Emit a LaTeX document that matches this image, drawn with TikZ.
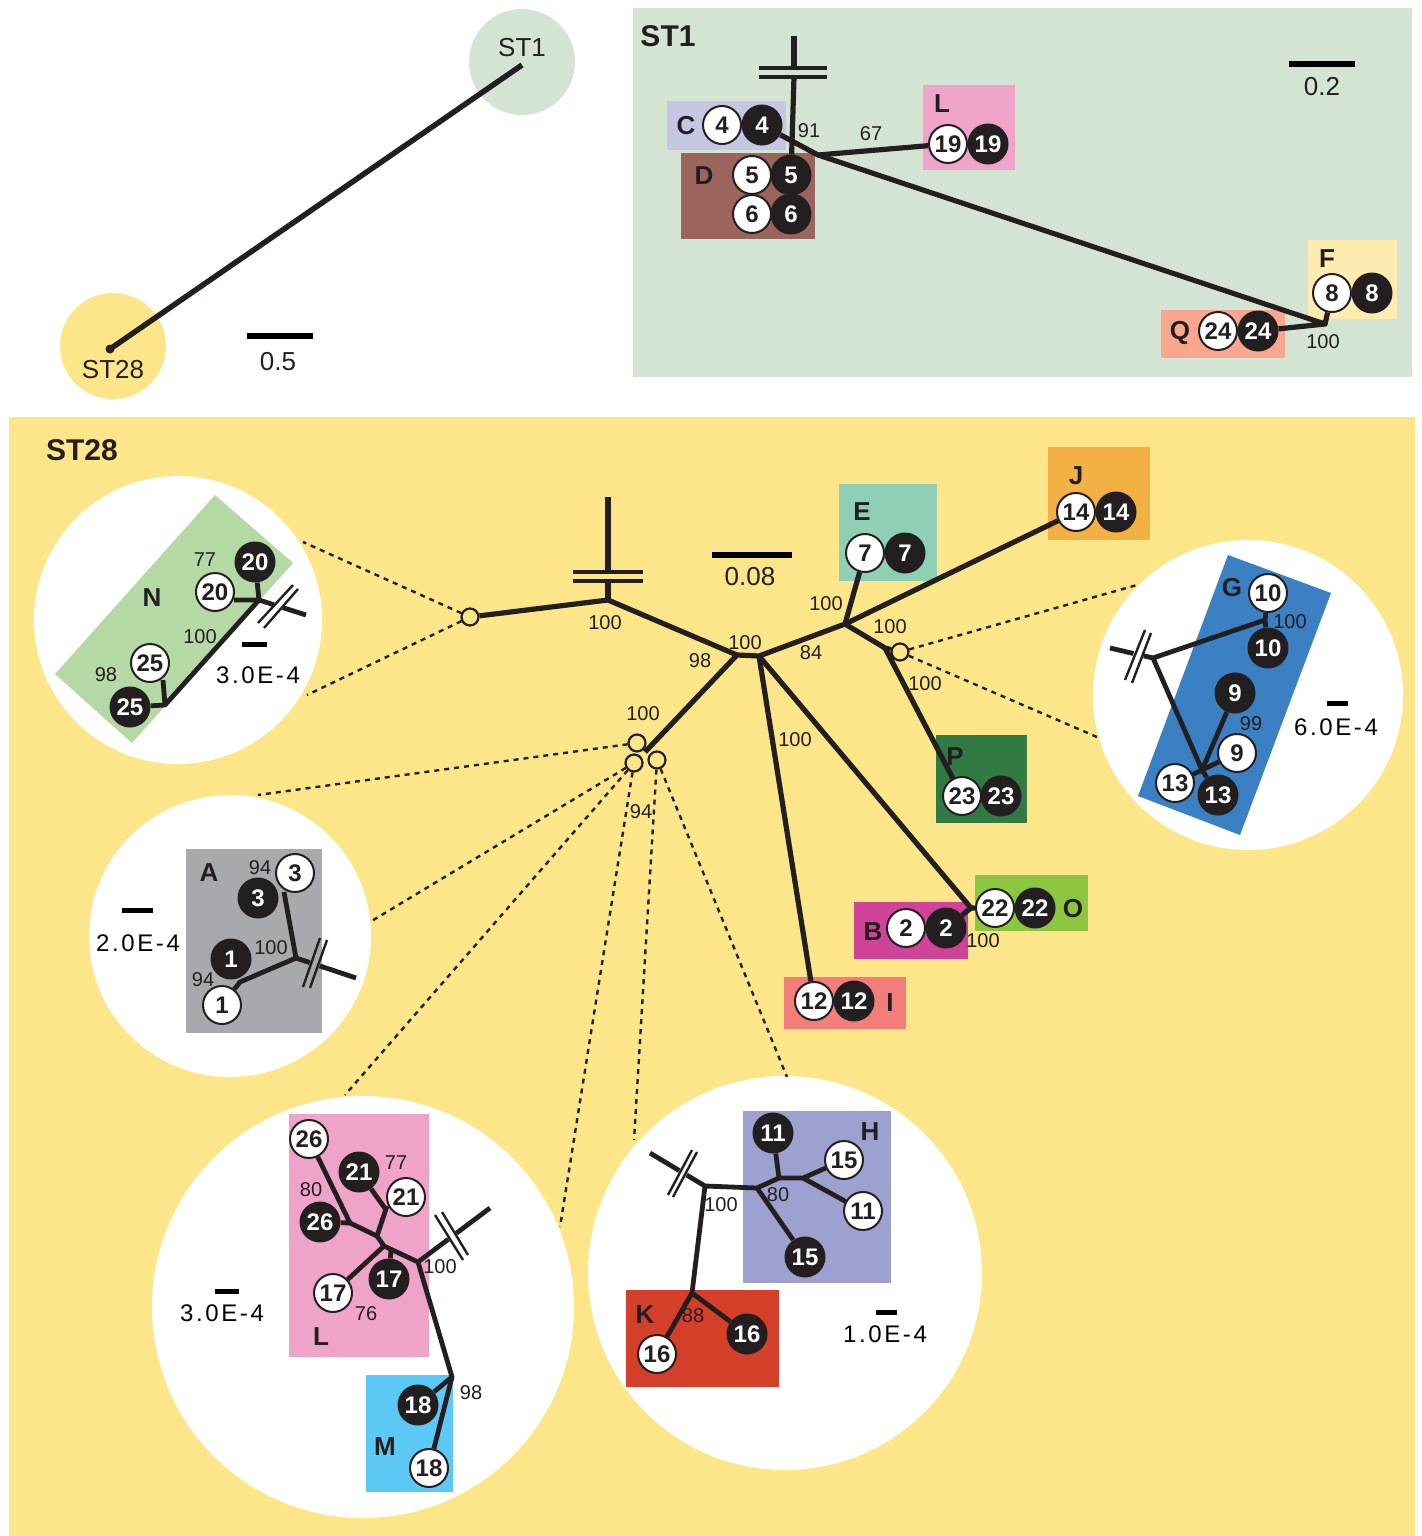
\documentclass[tikz,border=0pt]{standalone}
\usepackage{fontspec}
\setmainfont{Liberation Sans}
\newfontfamily\spacedfont[LetterSpace=11]{Liberation Sans}
\usetikzlibrary{calc}
\definecolor{ink}{HTML}{231F20}
\definecolor{stgreen}{HTML}{D4E4D2}
\definecolor{styellow}{HTML}{FDE68A}
\definecolor{cC}{HTML}{C5C6E4}
\definecolor{cD}{HTML}{9B655E}
\definecolor{cLpink}{HTML}{F0A3C8}
\definecolor{cF}{HTML}{FEEBAF}
\definecolor{cQ}{HTML}{F8A68E}
\definecolor{cE}{HTML}{8ECFB5}
\definecolor{cJ}{HTML}{F2B045}
\definecolor{cP}{HTML}{327A44}
\definecolor{cO}{HTML}{8CC640}
\definecolor{cB}{HTML}{CF4399}
\definecolor{cI}{HTML}{F27E7B}
\definecolor{cN}{HTML}{B5D9A5}
\definecolor{cG}{HTML}{3A80C2}
\definecolor{cA}{HTML}{A7A9AC}
\definecolor{cM}{HTML}{5CC8F5}
\definecolor{cH}{HTML}{9DA1D0}
\definecolor{cK}{HTML}{D43F2A}
\tikzset{
  br/.style={line width=5.2pt, draw=ink, line join=round},
  ibr/.style={line width=4.8pt, draw=ink, line join=round},
  bar/.style={line width=3.4pt, draw=ink},
  tbar/.style={line width=2.4pt, draw=ink},
  wn/.style={circle, draw=ink, line width=2pt, fill=white, minimum size=38pt, inner sep=0pt, font=\bfseries\fontsize{24}{24}\selectfont, text=ink},
  bn/.style={circle, fill=ink, minimum size=41pt, inner sep=0pt, font=\bfseries\fontsize{24}{24}\selectfont, text=white},
  grp/.style={font=\bfseries\fontsize{26}{26}\selectfont, text=ink, inner sep=0pt},
  ttl/.style={font=\bfseries\fontsize{30}{30}\selectfont, text=ink, inner sep=0pt},
  bs/.style={font=\fontsize{20}{20}\selectfont, text=ink, inner sep=0pt},
  scl/.style={font=\fontsize{26}{26}\selectfont, text=ink, inner sep=0pt},
  scs/.style={font=\spacedfont\fontsize{24}{24}\selectfont, text=black, inner sep=0pt},
  sbar/.style={line width=5.5pt, draw=black},
  ssbar/.style={line width=5pt, draw=black},
  dsh/.style={line width=2.4pt, dash pattern=on 5pt off 5pt, draw=ink},
  hub/.style={circle, draw=ink, line width=2.2pt, minimum size=17pt, inner sep=0pt},
}
\begin{document}
\begin{tikzpicture}[x=1pt,y=-1pt]
\useasboundingbox (0,0) rectangle (1421,1536);
\fill[white] (0,0) rectangle (1421,1536);

% ================= overview =================
\fill[stgreen] (522,62) circle (53pt);
\fill[styellow] (113,346) circle (53pt);
\coordinate (ovA) at (522,65);
\coordinate (ovB) at (110,349);
\draw[br, line width=5.5pt] (ovA) -- (ovB);
\fill[ink] (ovB) circle (4.5pt);
\node[scl] (ovst1) at (522,48) {ST1};
\node[scl] (ovst28) at (113,370) {ST28};
\coordinate (sb05a) at (247,336); \coordinate (sb05b) at (313,336);
\draw[sbar] (sb05a) -- (sb05b);
\node[scl] (sb05) at (278,362) {0.5};

% ================= ST1 panel =================
\fill[stgreen] (633,8) rectangle (1412,377);
\node[ttl] (st1title) at (668,36) {ST1};
\fill[cC] (667,101) rectangle (786,150);
\fill[cD] (681,153) rectangle (815,239);
\fill[cLpink] (923,85) rectangle (1015,170);
\fill[cF] (1308,240) rectangle (1397,319);
\fill[cQ] (1161,310) rectangle (1285,358);
\node[grp] (st1C) at (686,126) {C};
\node[grp] (st1D) at (704,176) {D};
\node[grp] (st1L) at (942,104) {L};
\node[grp] (st1F) at (1327,259) {F};
\node[grp] (st1Q) at (1180,333) {Q};
\node[wn] (st1w4) at (722,125) {4};
\node[bn] (st1b4) at (762,125) {4};
\node[wn] (st1w5) at (752,175) {5};
\node[bn] (st1b5) at (791,175) {5};
\node[wn] (st1w6) at (752,214) {6};
\node[bn] (st1b6) at (791,214) {6};
\node[wn] (st1w19) at (948,144) {19};
\node[bn] (st1b19) at (988,144) {19};
\node[wn] (st1w8) at (1332,293) {8};
\node[bn] (st1b8) at (1372,293) {8};
\node[wn] (st1w24) at (1218,331) {24};
\node[bn] (st1b24) at (1258,331) {24};
\coordinate (st1top) at (794,36);
\coordinate (st1c1) at (794,68);
\coordinate (st1c2) at (794,77);
\coordinate (st1j) at (818,155);
\coordinate (st1f) at (1325,324);
\draw[br] (st1top) -- (st1c1);
\draw[br] (st1c2) -- (st1b5);
\coordinate (st1bar1a) at (759,68); \coordinate (st1bar1b) at (827,68);
\coordinate (st1bar2a) at (759,77); \coordinate (st1bar2b) at (827,77);
\draw[bar] (st1bar1a) -- (st1bar1b);
\draw[bar] (st1bar2a) -- (st1bar2b);
\draw[br] (st1b4) -- (st1j) -- (st1w19);
\draw[br] (st1j) -- (st1f) -- (st1b24);
\draw[br] (st1f) -- (st1w8);
\node[bs] (st1l91) at (809,131) {91};
\node[bs] (st1l67) at (871,134) {67};
\node[bs] (st1l100) at (1323,342) {100};
\coordinate (sb02a) at (1289,64); \coordinate (sb02b) at (1355,64);
\draw[sbar] (sb02a) -- (sb02b);
\node[scl] (sb02) at (1322,87) {0.2};

% ================= ST28 panel =================
\fill[styellow] (9,417) rectangle (1415,1536);
\node[ttl] (st28title) at (82,450) {ST28};
% inset discs
\fill[white] (178,620) circle (144pt);
\fill[white] (1248,695) circle (155pt);
\fill[white] (230,936) circle (141pt);
\fill[white] (363,1307) circle (211pt);
\fill[white] (785,1273) circle (197pt);
% main boxes
\fill[cE] (839,484) rectangle (937,581);
\fill[cJ] (1048,447) rectangle (1150,540);
\fill[cP] (936,735) rectangle (1027,823);
\fill[cO] (975,875) rectangle (1088,931);
\fill[cB] (854,902) rectangle (968,959);
\fill[cI] (784,977) rectangle (906,1029);

% hubs and dashed links
\node[hub] (hubN) at (470,617) {};
\node[hub] (hubG) at (900,652) {};
\node[hub] (hubA) at (637,743) {};
\node[hub] (hubB) at (634,763) {};
\node[hub] (hubC) at (657,760) {};
\coordinate (dN1) at (303,542); \coordinate (dN2) at (307,695);
\coordinate (dG1) at (1137,585); \coordinate (dG2) at (1097,737);
\coordinate (dA1) at (258,795); \coordinate (dA2) at (370,922);
\coordinate (dL1) at (345,1095); \coordinate (dL2) at (560,1227);
\coordinate (dH1) at (634,1140); \coordinate (dH2) at (787,1077);
\draw[dsh] (hubN) -- (dN1);
\draw[dsh] (hubN) -- (dN2);
\draw[dsh] (hubG) -- (dG1);
\draw[dsh] (hubG) -- (dG2);
\draw[dsh] (hubA) -- (dA1);
\draw[dsh] (hubB) -- (dA2);
\draw[dsh] (hubB) -- (dL1);
\draw[dsh] (hubB) -- (dL2);
\draw[dsh] (hubC) -- (dH1);
\draw[dsh] (hubC) -- (dH2);

% main nodes
\node[grp] (mE) at (862,512) {E};
\node[wn] (mw7) at (865,553) {7};
\node[bn] (mb7) at (905,553) {7};
\node[grp] (mJ) at (1076,476) {J};
\node[wn] (mw14) at (1076,512) {14};
\node[bn] (mb14) at (1116,512) {14};
\node[grp, text=ink] (mPl) at (955,757) {P};
\node[wn] (mw23) at (962,796) {23};
\node[bn] (mb23) at (1001,796) {23};
\node[wn] (mw22) at (995,908) {22};
\node[bn] (mb22) at (1035,908) {22};
\node[grp] (mO) at (1073,909) {O};
\node[grp] (mB) at (873,932) {B};
\node[wn] (mw2) at (906,928) {2};
\node[bn] (mb2) at (946,928) {2};
\node[wn] (mw12) at (814,1001) {12};
\node[bn] (mb12) at (854,1001) {12};
\node[grp] (mI) at (890,1003) {I};

% main tree
\coordinate (mtop) at (608,497);
\coordinate (mc1) at (608,572);
\coordinate (mc2) at (608,581);
\coordinate (m0) at (608,600);
\coordinate (m98) at (737,655);
\coordinate (m100) at (759,656);
\coordinate (mcl) at (645,752);
\coordinate (m84) at (845,624);
\coordinate (mP) at (885,648);
\coordinate (mBO) at (971,908);
\coordinate (mbar1a) at (573,572); \coordinate (mbar1b) at (643,572);
\coordinate (mbar2a) at (573,581); \coordinate (mbar2b) at (643,581);
\draw[br] (mtop) -- (mc1);
\draw[br] (mc2) -- (m0);
\draw[bar] (mbar1a) -- (mbar1b);
\draw[bar] (mbar2a) -- (mbar2b);
\draw[br] (hubN) -- (m0) -- (m98) -- (m100) -- (m84) -- (mw14);
\draw[br] (m98) -- (mcl);
\draw[br] (m84) -- (mw7);
\draw[br] (m84) -- (mP) -- (hubG);
\draw[br] (mP) -- (mw23);
\draw[br] (m100) -- (mw12);
\draw[br] (m100) -- (mBO) -- (mw22);
\draw[br] (mBO) -- (mb2);
\node[bs] (ml1) at (605,623) {100};
\node[bs] (ml2) at (700,661) {98};
\node[bs] (ml3) at (745,643) {100};
\node[bs] (ml4) at (811,653) {84};
\node[bs] (ml5) at (826,604) {100};
\node[bs] (ml6) at (890,627) {100};
\node[bs] (ml7) at (925,684) {100};
\node[bs] (ml8) at (795,740) {100};
\node[bs] (ml9) at (643,714) {100};
\node[bs] (ml10) at (641,812) {94};
\node[bs] (ml11) at (983,941) {100};
\coordinate (sb08a) at (712,555); \coordinate (sb08b) at (792,555);
\draw[sbar] (sb08a) -- (sb08b);
\node[scl] (sb08) at (750,577) {0.08};

% ================= inset N =================
\fill[cN] (215,495) -- (293,563) -- (132,743) -- (55,674) -- cycle;
\node[grp] (nN) at (152,598) {N};
\node[bn] (nb20) at (255,562) {20};
\node[wn] (nw20) at (215,592) {20};
\node[wn] (nw25) at (150,663) {25};
\node[bn] (nb25) at (130,707) {25};
\coordinate (nJ) at (259,600);
\coordinate (nw20e) at (234,600);
\coordinate (nK) at (165,705);
\coordinate (nw25e) at (163,680);
\coordinate (ns1) at (273.8,604.7);
\coordinate (ns2) at (282.8,607.6);
\coordinate (ncut) at (306,615);
\draw[ibr] (nb20) -- (nJ) -- (nw20e);
\draw[ibr] (nJ) -- (nK) -- (nb25);
\draw[ibr] (nK) -- (nw25e);
\draw[ibr] (nJ) -- (ns1);
\draw[ibr] (ns2) -- (ncut);
\coordinate (nbar1a) at (258,623); \coordinate (nbar1b) at (293,585);
\coordinate (nbar2a) at (264,628); \coordinate (nbar2b) at (298,589);
\draw[tbar] (nbar1a) -- (nbar1b);
\draw[tbar] (nbar2a) -- (nbar2b);
\node[bs] (nl77) at (205,560) {77};
\node[bs] (nl100) at (200,637) {100};
\node[bs] (nl98) at (106,675) {98};
\coordinate (nsba) at (242,644); \coordinate (nsbb) at (267,644);
\draw[ssbar] (nsba) -- (nsbb);
\node[scs] (nsb) at (258,675) {3.0E-4};

% ================= inset G =================
\fill[cG] (1228,555) -- (1331,593) -- (1240,835) -- (1138,796) -- cycle;
\node[grp] (gG) at (1232,588) {G};
\node[wn] (gw10) at (1268,593) {10};
\node[bn] (gb10) at (1268,648) {10};
\node[bn] (gb9) at (1235,693) {9};
\node[wn] (gw9) at (1237,753) {9};
\node[wn] (gw13) at (1175,783) {13};
\node[bn] (gb13) at (1218,795) {13};
\coordinate (gJ) at (1153,658);
\coordinate (gs1) at (1143.7,655.8);
\coordinate (gs2) at (1133.5,653.5);
\coordinate (gcut) at (1110,648);
\coordinate (g10) at (1265,620);
\coordinate (g13) at (1202,770);
\draw[ibr] (gJ) -- (gs1);
\draw[ibr] (gs2) -- (gcut);
\draw[ibr] (g10) -- (gJ) -- (g13);
\draw[ibr] (g10) -- (gw10);
\draw[ibr] (g10) -- (gb10);
\draw[ibr] (g13) -- (gb9);
\draw[ibr] (g13) -- (gw9);
\draw[ibr] (g13) -- (gw13);
\draw[ibr] (g13) -- (gb13);
\coordinate (gbar1a) at (1125,680); \coordinate (gbar1b) at (1145,630);
\coordinate (gbar2a) at (1132,683); \coordinate (gbar2b) at (1151,633);
\draw[tbar] (gbar1a) -- (gbar1b);
\draw[tbar] (gbar2a) -- (gbar2b);
\node[bs] (gl100) at (1290,622) {100};
\node[bs] (gl99) at (1251,724) {99};
\coordinate (gsba) at (1327,703); \coordinate (gsbb) at (1348,703);
\draw[ssbar] (gsba) -- (gsbb);
\node[scs] (gsb) at (1336,727) {6.0E-4};

% ================= inset A =================
\fill[cA] (186,849) rectangle (322,1033);
\node[grp] (aA) at (209,873) {A};
\node[wn] (aw3) at (295,873) {3};
\node[bn] (ab3) at (258,898) {3};
\node[bn] (ab1) at (231,959) {1};
\node[wn] (aw1) at (222,1005) {1};
\coordinate (aJ) at (296,958);
\coordinate (aw3e) at (284,892);
\coordinate (a1) at (240,982);
\coordinate (as1) at (309.8,962.6);
\coordinate (as2) at (319.7,965.9);
\coordinate (acut) at (356,978);
\draw[ibr] (aw3e) -- (aJ) -- (a1) -- (aw1);
\draw[ibr] (aJ) -- (as1);
\draw[ibr] (as2) -- (acut);
\coordinate (abar1a) at (303,987); \coordinate (abar1b) at (320,938);
\coordinate (abar2a) at (310,988); \coordinate (abar2b) at (327,940);
\draw[tbar] (abar1a) -- (abar1b);
\draw[tbar] (abar2a) -- (abar2b);
\node[bs] (al94a) at (260,868) {94};
\node[bs] (al100) at (271,948) {100};
\node[bs] (al94b) at (203,980) {94};
\coordinate (asba) at (122,910); \coordinate (asbb) at (153,910);
\draw[ssbar] (asba) -- (asbb);
\node[scs] (asb) at (138,943) {2.0E-4};

% ================= inset L/M =================
\fill[cLpink] (289,1114) rectangle (429,1357);
\fill[cM] (366,1375) rectangle (453,1492);
\node[grp] (lL) at (321,1337) {L};
\node[grp] (lM) at (385,1447) {M};
\node[wn] (lw26) at (309,1139) {26};
\node[bn] (lb21) at (359,1172) {21};
\node[wn] (lw21) at (406,1197) {21};
\node[bn] (lb26) at (320,1222) {26};
\node[wn] (lw17) at (333,1293) {17};
\node[bn] (lb17) at (389,1279) {17};
\node[bn] (lb18) at (418,1405) {18};
\node[wn] (lw18) at (429,1468) {18};
\coordinate (lj1) at (350,1223);
\coordinate (lj2) at (377,1236);
\coordinate (lj3) at (384,1246);
\coordinate (lj4) at (418,1262);
\coordinate (lj5) at (452,1377);
\coordinate (l21e) at (387,1206);
\coordinate (lb21j) at (385.5,1209);
\coordinate (l17j) at (391,1249);
\coordinate (ls1) at (448.4,1239.2);
\coordinate (ls2) at (456.4,1233.2);
\coordinate (lcut) at (490,1208);
\draw[ibr] (lw26) -- (lj1) -- (lj2) -- (lj3) -- (lj4) -- (lj5) -- (lw18);
\draw[ibr] (lj1) -- (lb26);
\draw[ibr] (lj2) -- (l21e);
\draw[ibr] (lb21) -- (lb21j);
\draw[ibr] (lj3) -- (lw17);
\draw[ibr] (l17j) -- (lb17);
\draw[ibr] (lj5) -- (lb18);
\draw[ibr] (lj4) -- (ls1);
\draw[ibr] (ls2) -- (lcut);
\coordinate (lbar1a) at (435,1215); \coordinate (lbar1b) at (463,1260);
\coordinate (lbar2a) at (442,1212); \coordinate (lbar2b) at (468,1255);
\draw[tbar] (lbar1a) -- (lbar1b);
\draw[tbar] (lbar2a) -- (lbar2b);
\node[bs] (ll80) at (311,1190) {80};
\node[bs] (ll77) at (396,1163) {77};
\node[bs] (ll100) at (440,1267) {100};
\node[bs] (ll76) at (366,1314) {76};
\node[bs] (ll98) at (471,1393) {98};
\coordinate (lsba) at (215,1291); \coordinate (lsbb) at (239,1291);
\draw[ssbar] (lsba) -- (lsbb);
\node[scs] (lsb) at (222,1313) {3.0E-4};

% ================= inset H/K =================
\fill[cH] (743,1111) rectangle (891,1283);
\fill[cK] (626,1290) rectangle (779,1387);
\node[grp] (hH) at (870,1132) {H};
\node[grp] (kK) at (645,1315) {K};
\node[bn] (hb11) at (773,1133) {11};
\node[wn] (hw15) at (844,1160) {15};
\node[wn] (hw11) at (863,1211) {11};
\node[bn] (hb15) at (805,1257) {15};
\node[bn] (kb16) at (747,1334) {16};
\node[wn] (kw16) at (657,1354) {16};
\coordinate (hc1) at (705,1186);
\coordinate (hc2) at (757,1188);
\coordinate (hc3) at (779,1178);
\coordinate (hc4) at (803,1178);
\coordinate (hc5) at (692,1293);
\coordinate (hs1) at (686.6,1175);
\coordinate (hs2) at (679.3,1170.6);
\coordinate (hcut) at (650,1153);
\draw[ibr] (hs1) -- (hc1) -- (hc2) -- (hc3) -- (hc4) -- (hw15);
\draw[ibr] (hc3) -- (hb11);
\draw[ibr] (hc4) -- (hw11);
\draw[ibr] (hc2) -- (hb15);
\draw[ibr] (hc1) -- (hc5) -- (kb16);
\draw[ibr] (hc5) -- (kw16);
\draw[ibr] (hs2) -- (hcut);
\coordinate (hbar1a) at (668,1195); \coordinate (hbar1b) at (692,1150);
\coordinate (hbar2a) at (673,1197); \coordinate (hbar2b) at (697,1152);
\draw[tbar] (hbar1a) -- (hbar1b);
\draw[tbar] (hbar2a) -- (hbar2b);
\node[bs] (hl100) at (721,1205) {100};
\node[bs] (hl80) at (778,1195) {80};
\node[bs] (kl88) at (693,1316) {88};
\coordinate (hsba) at (876,1312); \coordinate (hsbb) at (897,1312);
\draw[ssbar] (hsba) -- (hsbb);
\node[scs] (hsb) at (885,1334) {1.0E-4};
\end{tikzpicture}
\end{document}
